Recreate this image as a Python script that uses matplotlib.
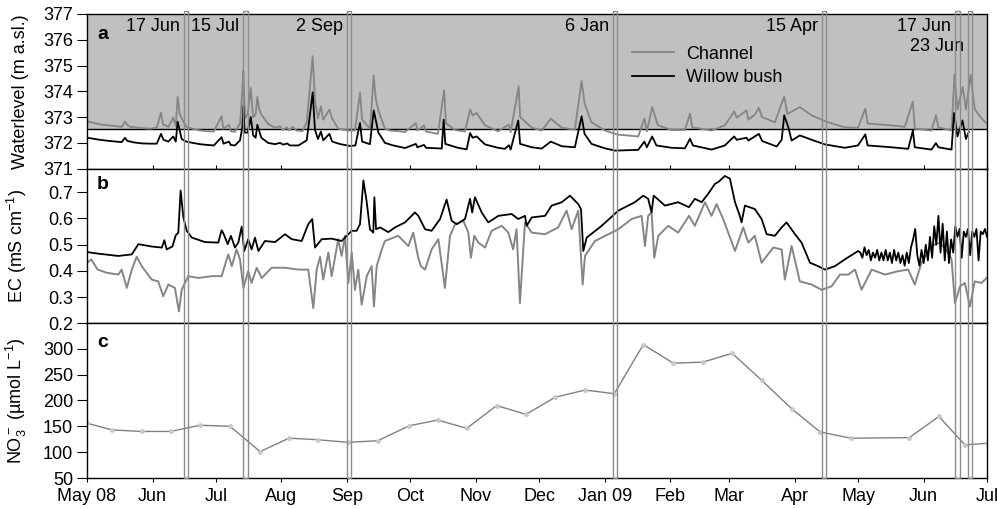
"""Water level, EC and nitrate record, May 2008 - Jul 2009 -> out.png"""

import matplotlib

matplotlib.use("Agg")  # headless
import matplotlib.dates as mdates
import matplotlib.pyplot as plt
import numpy as np
import pandas as pd
from matplotlib.patches import Rectangle
from matplotlib.transforms import blended_transform_factory

START = pd.Timestamp("2008-05-01")  # all series given as days since START

# --- panel a: water level (m a.s.l.) ------------------------------------
level_channel = [
    (0, 372.84), (3, 372.78), (6, 372.72), (10, 372.68), (14, 372.64), (16.4, 372.62),
    (18, 372.83), (19, 372.7), (20.5, 372.62), (25, 372.58), (30, 372.55), (33, 372.6),
    (35, 373.17), (36, 372.72), (38.5, 372.62), (40.8, 372.98), (42, 372.66), (42.9, 373.78),
    (43.8, 373.15), (44.8, 372.95), (47, 372.62), (50, 372.55), (53.5, 372.48), (57, 372.46),
    (60, 372.44), (63.7, 373.04), (64.5, 372.55), (67.2, 372.7), (68, 372.45), (70, 372.43),
    (72.4, 372.75), (73.5, 374.0), (74, 374.79), (74.8, 372.95), (76, 373.1), (77.5, 374.13),
    (78.6, 373.0), (79.8, 373.1), (80.6, 373.78), (81.5, 373.3), (82.5, 373.1), (85.7, 372.74),
    (89, 372.58), (91.3, 372.65), (92.5, 372.5), (94.7, 372.6), (95.5, 372.48), (97.5, 372.62),
    (99, 372.48), (102, 372.46), (104, 372.8), (106.8, 375.36), (107.9, 373.65),
    (109.3, 372.95), (110.7, 373.42), (111.8, 372.9), (114.7, 373.29), (116, 372.95),
    (118.9, 372.55), (123.5, 372.48), (126.8, 372.48), (129.2, 373.95), (130.2, 372.9),
    (133.9, 372.55), (135.7, 374.61), (136.7, 373.7), (137.9, 373.26), (141, 372.55),
    (143.4, 372.48), (148, 372.45), (150.5, 372.42), (155.6, 372.77), (156.4, 372.48),
    (159.5, 372.68), (160.5, 372.44), (166.1, 372.35), (169, 374.04), (169.9, 372.76),
    (174.2, 372.5), (178.9, 372.44), (181.3, 373.29), (182.5, 373.07), (184.4, 373.16),
    (188.4, 372.68), (194.5, 372.45), (199.7, 372.71), (200.5, 372.42), (204.3, 374.19),
    (205, 373.0), (210.5, 372.59), (215.2, 372.48), (219.5, 372.94), (224.7, 372.59),
    (230.9, 372.51), (234.1, 374.4), (235.5, 373.52), (238.8, 372.8), (245.1, 372.48),
    (251.3, 372.32), (260.9, 372.25), (263.8, 372.94), (265, 372.45), (267.5, 373.39),
    (270.2, 372.68), (276.7, 372.5), (283, 372.5), (285.4, 373.13), (286.5, 372.6),
    (295.6, 372.48), (301.9, 372.68), (306.3, 373.22), (307.5, 372.98), (312.2, 373.26),
    (313, 372.9), (316.1, 373.1), (318, 373.36), (319.5, 373.0), (325.6, 372.8), (330, 373.8),
    (331.5, 373.12), (337.4, 373.39), (343, 373.07), (349.3, 372.84), (358.7, 372.6),
    (364.9, 372.58), (368.4, 373.33), (369.5, 372.75), (380.8, 372.68), (387.1, 372.62),
    (390.9, 373.61), (391.8, 372.55), (399.7, 372.48), (401.8, 373.07), (403, 372.6),
    (409.2, 372.48), (410.6, 374.65), (412, 373.3), (414.5, 374.17), (416, 373.3),
    (418.2, 374.65), (420.2, 373.3), (423.4, 372.95), (425.8, 372.75),
]
level_willow = [
    (0, 372.2), (3, 372.16), (6, 372.12), (10, 372.08), (14, 372.05), (16.4, 372.03),
    (18, 372.2), (19, 372.08), (22, 372.02), (26, 371.98), (30, 371.97), (33, 371.97),
    (35, 372.35), (36.2, 372.12), (38.5, 372.05), (40.8, 372.25), (42, 372.05), (42.9, 372.82),
    (44.8, 372.15), (47, 372.05), (50, 372.0), (53.5, 371.95), (57, 371.92), (60, 371.9),
    (63.7, 372.22), (64.6, 371.97), (67.2, 372.05), (68, 371.92), (70, 371.9), (72.4, 372.1),
    (73.5, 372.6), (74, 373.44), (74.6, 372.4), (76, 372.4), (77.5, 373.0), (78.6, 372.3),
    (79.8, 372.2), (80.6, 372.7), (82.5, 372.2), (85.7, 372.0), (89, 371.95), (91.3, 372.0),
    (93, 371.93), (94.7, 371.98), (96, 371.9), (100, 371.9), (104, 372.1), (106.8, 373.96),
    (107.9, 372.5), (109.3, 372.15), (110.7, 372.44), (111.8, 372.1), (114.7, 372.35),
    (116, 372.05), (120, 371.95), (124.5, 371.88), (127, 371.9), (129.2, 372.77),
    (130.2, 372.05), (133.9, 371.95), (135.7, 373.26), (137.9, 372.4), (141, 372.0),
    (145, 371.9), (150.5, 371.8), (155.6, 371.96), (156.4, 371.83), (159.5, 371.92),
    (160.5, 371.81), (167.9, 371.78), (168.8, 372.9), (169.6, 371.96), (175.6, 371.81),
    (179.7, 371.75), (181.3, 372.38), (182.5, 372.2), (184.4, 372.25), (188.4, 371.94),
    (194.5, 371.81), (197.8, 371.77), (199.7, 371.91), (200.5, 371.74), (204.1, 372.87),
    (205, 371.96), (210.5, 371.83), (215.2, 371.78), (219.5, 372.05), (224.7, 371.87),
    (230.9, 371.83), (234.1, 373.03), (235.5, 372.35), (238.8, 371.96), (245.1, 371.79),
    (249.9, 371.7), (260.9, 371.73), (263.8, 372.05), (265, 371.83), (267.5, 372.25),
    (269.5, 371.9), (276.7, 371.81), (283, 371.79), (285.4, 372.16), (286.8, 371.9),
    (295.6, 371.74), (301.9, 371.9), (306.3, 372.25), (307.5, 372.12), (312.2, 372.2),
    (313, 372.09), (318, 372.35), (319.6, 372.07), (326.4, 371.86), (328.8, 372.12),
    (330, 373.07), (331.9, 372.62), (333.5, 372.09), (337.4, 372.29), (343, 372.12),
    (349.3, 371.94), (358.7, 371.81), (364.9, 371.9), (368.4, 372.33), (369.5, 371.9),
    (380.8, 371.83), (388.7, 371.77), (390.9, 372.48), (391.8, 371.83), (399.7, 371.74),
    (401.8, 371.99), (403, 371.83), (409.2, 371.74), (410.4, 373.16), (412, 372.25),
    (414.4, 372.87), (416, 372.15), (417.4, 372.43),
]
ground_level = 372.55  # top of the shaded band

# --- panel b: electrical conductivity (mS/cm) ---------------------------
ec_channel = [
    (0, 0.431), (2, 0.444), (5, 0.405), (9.3, 0.393), (14.8, 0.386), (16.4, 0.405),
    (18.8, 0.335), (21.2, 0.405), (23.5, 0.454), (25.9, 0.418), (30.6, 0.367), (33.7, 0.36),
    (36.1, 0.303), (38.5, 0.348), (41.6, 0.335), (43.5, 0.245), (44.8, 0.328), (47.9, 0.38),
    (52.7, 0.373), (59, 0.38), (63.7, 0.38), (66.1, 0.444), (66.9, 0.463), (68.5, 0.418),
    (70.8, 0.482), (72.4, 0.444), (74, 0.335), (76.3, 0.399), (77.9, 0.354), (80.3, 0.412),
    (82.7, 0.373), (87.4, 0.412), (93.7, 0.412), (100, 0.405), (104.7, 0.405), (107.1, 0.258),
    (108.7, 0.405), (110.3, 0.454), (111.8, 0.367), (114.2, 0.47), (115.8, 0.38),
    (118.9, 0.521), (120.5, 0.457), (122.1, 0.534), (123.7, 0.354), (125.3, 0.47),
    (126.8, 0.328), (128.4, 0.405), (130, 0.271), (132.4, 0.38), (134.7, 0.418),
    (135.8, 0.264), (137.1, 0.418), (139.5, 0.482), (141, 0.514), (147.3, 0.534),
    (152.1, 0.495), (154.4, 0.546), (156.8, 0.45), (158, 0.418), (160, 0.405), (163.1, 0.482),
    (166.3, 0.521), (169.4, 0.335), (171.8, 0.534), (174.2, 0.578), (178.1, 0.591),
    (180.5, 0.546), (181.7, 0.45), (183.3, 0.534), (185.2, 0.508), (188.4, 0.489),
    (191.5, 0.553), (196.3, 0.572), (199.4, 0.546), (201.7, 0.482), (203.3, 0.559),
    (204.9, 0.277), (207.3, 0.585), (210.5, 0.546), (216.8, 0.54), (223, 0.566), (227, 0.63),
    (229.4, 0.559), (232.5, 0.63), (234.6, 0.348), (235.7, 0.457), (240.4, 0.514),
    (251.5, 0.559), (257.8, 0.598), (262.5, 0.61), (264.1, 0.495), (265.6, 0.61),
    (267.2, 0.623), (268.5, 0.45), (270.4, 0.534), (275.1, 0.572), (279.8, 0.546),
    (284.9, 0.61), (287.7, 0.572), (292.5, 0.662), (295.6, 0.61), (298, 0.655),
    (301.1, 0.598), (306.7, 0.476), (310.6, 0.566), (313, 0.508), (316.1, 0.534),
    (319.3, 0.431), (324.8, 0.489), (328.8, 0.482), (330.3, 0.367), (333.5, 0.495),
    (337.4, 0.36), (343, 0.348), (347.7, 0.328), (352.4, 0.341), (356.4, 0.386),
    (360.3, 0.386), (363.5, 0.405), (366.6, 0.328), (371.4, 0.405), (377.7, 0.386),
    (384, 0.399), (388.7, 0.405), (391.8, 0.348), (395, 0.431), (399.7, 0.495),
    (403.7, 0.508), (407.6, 0.47), (409.2, 0.444), (410.8, 0.277), (413.2, 0.341),
    (415.5, 0.354), (417.9, 0.264), (420.2, 0.36), (423.4, 0.354), (425.8, 0.373),
]
ec_willow = [
    (0, 0.472), (5.1, 0.466), (14.8, 0.457), (21.2, 0.463), (24.3, 0.502), (30.6, 0.493),
    (35.4, 0.489), (36.6, 0.517), (37.7, 0.482), (40.4, 0.493), (42, 0.536), (43.2, 0.546),
    (44.3, 0.707), (45.6, 0.604), (47.2, 0.553), (49.6, 0.527), (55.8, 0.51), (62.1, 0.508),
    (63.7, 0.555), (64.5, 0.544), (66.6, 0.502), (68.1, 0.534), (70, 0.489), (71.6, 0.508),
    (73.2, 0.569), (74.4, 0.476), (76.3, 0.521), (77.9, 0.482), (79.5, 0.527), (81.1, 0.476),
    (84.2, 0.514), (89, 0.51), (93.7, 0.54), (96.9, 0.521), (101.6, 0.514), (104.7, 0.578),
    (106.6, 0.598), (107.9, 0.489), (111.1, 0.521), (115.8, 0.523), (120.5, 0.514),
    (125.3, 0.553), (127.6, 0.553), (129.2, 0.578), (130.8, 0.745), (132.4, 0.662),
    (133.9, 0.559), (135.5, 0.546), (136, 0.681), (136.8, 0.559), (138.7, 0.566),
    (142.6, 0.548), (145.8, 0.566), (150.5, 0.585), (155.2, 0.623), (156.8, 0.61),
    (160, 0.559), (163.1, 0.553), (167.1, 0.598), (170.2, 0.672), (172.6, 0.591),
    (175, 0.578), (178.9, 0.598), (181.3, 0.675), (182.3, 0.623), (183.6, 0.681),
    (186.8, 0.623), (189.9, 0.585), (194.7, 0.61), (201, 0.617), (204.1, 0.598),
    (207.3, 0.61), (208.1, 0.572), (210.5, 0.604), (216.8, 0.61), (219.9, 0.649),
    (224.7, 0.662), (228.6, 0.687), (232.5, 0.655), (233.8, 0.636), (234.9, 0.476),
    (236.5, 0.527), (243.6, 0.572), (251.5, 0.63), (259.3, 0.662), (263.3, 0.687),
    (265.6, 0.675), (267.2, 0.623), (268.2, 0.687), (270.4, 0.672), (273.5, 0.649),
    (279.8, 0.662), (284.9, 0.643), (287.7, 0.675), (290.9, 0.662), (294, 0.694),
    (297.2, 0.732), (298.8, 0.739), (301.9, 0.762), (304.3, 0.752), (306.7, 0.662),
    (309, 0.61), (309.8, 0.585), (311.4, 0.649), (316.1, 0.636), (319.3, 0.598),
    (321.7, 0.54), (325.6, 0.534), (328.8, 0.566), (331.1, 0.585), (335.1, 0.54),
    (338.2, 0.508), (342.2, 0.431), (346.1, 0.418), (349.3, 0.405), (354, 0.418),
    (358.7, 0.444), (365, 0.476),
    (366, 0.47), (367, 0.45), (368, 0.49), (369, 0.46), (370, 0.48), (371, 0.44),
    (372, 0.47), (373, 0.45), (374, 0.48), (375, 0.44), (376, 0.47), (377, 0.44),
    (378, 0.48), (379, 0.44), (380, 0.47), (381, 0.43), (382, 0.48), (383, 0.44),
    (384, 0.47), (385, 0.43), (386, 0.46), (387, 0.42), (388, 0.47), (389, 0.43),
    (390, 0.49), (391, 0.52), (392, 0.56), (393, 0.46), (394, 0.42), (395, 0.48),
    (396, 0.43), (397, 0.50), (398, 0.44), (399, 0.53), (400, 0.45), (401, 0.57),
    (402, 0.50), (403, 0.61), (404, 0.47), (405, 0.58), (406, 0.44), (407, 0.55),
    (408, 0.43), (409, 0.52), (410, 0.47), (411, 0.57), (412, 0.53), (413, 0.56),
    (414, 0.45), (415, 0.55), (416, 0.53), (417, 0.56), (418, 0.46), (419, 0.55),
    (420, 0.53), (421, 0.56), (422, 0.44), (423, 0.55), (424, 0.54), (425, 0.56),
    (426, 0.53),
]

# --- panel c: nitrate (umol/L), roughly fortnightly samples -------------
no3_day = [0, 11.7, 25.8, 39.6, 53.4, 67.7, 81.9, 95.6, 109.2, 123.4, 137.6, 152.5, 166,
           179.7, 193.9, 207.8, 221.5, 235.7, 249.6, 263.3, 277.5, 291.4, 305.4, 319.3,
           333.5, 347, 361.6, 389.2, 403.2, 415.5, 425.8]
no3_umol = [156, 143, 140, 140, 152, 150, 101, 127, 124, 119, 122, 151, 162, 146, 190, 173,
            206, 220, 213, 308, 272, 274, 291, 239, 184, 139, 127, 128, 169, 114, 117]

# --- sampling events ----------------------------------------------------
event_dates = ["2008-06-17", "2008-07-15", "2008-09-02", "2009-01-06",
               "2009-04-15", "2009-06-17", "2009-06-23"]
event_labels = ["17 Jun", "15 Jul", "2 Sep", "6 Jan", "15 Apr", "17 Jun", "23 Jun"]

month_labels = ["May 08", "Jun", "Jul", "Aug", "Sep", "Oct", "Nov", "Dec",
                "Jan 09", "Feb", "Mar", "Apr", "May", "Jun", "Jul"]

GREY = "#858585"


def to_dates(days):
    return START + pd.to_timedelta(np.asarray(days, dtype=float), unit="D")


def split(series):
    d, v = zip(*series)
    return to_dates(d), np.array(v)


plt.rcParams["font.family"] = ["Liberation Sans", "DejaVu Sans"]
plt.rcParams["mathtext.fontset"] = "custom"
plt.rcParams["mathtext.rm"] = "Liberation Sans"
plt.rcParams["mathtext.it"] = "Liberation Sans:italic"
plt.rcParams["mathtext.default"] = "regular"

fig, (ax_a, ax_b, ax_c) = plt.subplots(3, 1, figsize=(9.97, 5.09), dpi=100, sharex=True)
fig.subplots_adjust(left=0.0873, right=0.990, top=0.9725, bottom=0.0609, hspace=0)

# --- a ------------------------------------------------------------------
ax_a.axhspan(ground_level, 377, color="#c0c0c0", lw=0, zorder=0)
ax_a.axhline(ground_level, color="black", lw=1, zorder=1)
t, v = split(level_channel)
ax_a.plot(t, v, color=GREY, lw=1.3, label="Channel", zorder=2)
t, v = split(level_willow)
ax_a.plot(t, v, color="black", lw=1.3, label="Willow bush", zorder=3)
ax_a.set_ylim(371, 377)
ax_a.set_yticks(range(371, 378))
ax_a.set_ylabel("Waterlevel (m a.sl.)", fontsize=13)
ax_a.legend(loc="center left", bbox_to_anchor=(0.6056, 0.665), frameon=False, fontsize=13,
            handlelength=2.3, handletextpad=0.7, labelspacing=0.35, borderpad=0,
            borderaxespad=0)

# --- b ------------------------------------------------------------------
t, v = split(ec_channel)
ax_b.plot(t, v, color=GREY, lw=1.4)
t, v = split(ec_willow)
ax_b.plot(t, v, color="black", lw=1.3)
ax_b.set_ylim(0.2, 0.79)
ax_b.set_yticks(np.arange(0.2, 0.71, 0.1))
ax_b.yaxis.set_major_formatter(matplotlib.ticker.FormatStrFormatter("%.1f"))
ax_b.set_ylabel("EC (mS cm$^{-1}$)", fontsize=13)

# --- c ------------------------------------------------------------------
ax_c.plot(to_dates(no3_day), no3_umol, color="#808080", lw=1, marker="o", ms=2.5,
          mfc="#c8c8c8", mec="#c8c8c8")
ax_c.set_ylim(50, 349)
ax_c.set_yticks(range(50, 301, 50))
ax_c.set_ylabel("NO$_3^-$ (µmol L$^{-1}$)", fontsize=13)

# --- shared x axis --------------------------------------------------------
months = pd.date_range("2008-05-01", "2009-07-01", freq="MS")
ax_c.set_xlim(months[0], months[-1])
ax_c.set_xticks(months)
ax_c.set_xticklabels(month_labels)

for ax, letter, ly in ((ax_a, "a", 0.865), (ax_b, "b", 0.895), (ax_c, "c", 0.875)):
    ax.tick_params(axis="y", direction="out", length=7, pad=3, labelsize=13)
    ax.text(0.011, ly, letter, transform=ax.transAxes, fontsize=14, fontweight="bold",
            va="center", ha="left")
    ax.yaxis.set_label_coords(-0.064, 0.5)
    for s in ax.spines.values():
        s.set_linewidth(1)
ax_a.tick_params(axis="x", direction="in", length=3, labelbottom=False)
ax_b.tick_params(axis="x", length=0, labelbottom=False)
ax_c.tick_params(axis="x", direction="out", length=3, pad=4, labelsize=13)

# --- event bars across all panels + labels in panel a --------------------
y_bot = ax_c.get_position().y0
y_top = ax_a.get_position().y1 + 3 / 509
trans = blended_transform_factory(ax_c.transData, fig.transFigure)
for d, lab in zip(event_dates, event_labels):
    x0 = mdates.date2num(pd.Timestamp(d)) - 1
    fig.add_artist(Rectangle((x0, y_bot), 2, y_top - y_bot, transform=trans, fill=False,
                             edgecolor="#8c8c8c", lw=1, clip_on=False, zorder=5))
    ly = 0.787 if lab == "23 Jun" else 0.916
    ax_a.annotate(lab, xy=(x0, ly), xycoords=("data", "axes fraction"), xytext=(-3, 0),
                  textcoords="offset points", ha="right", va="center", fontsize=13)

fig.savefig("out.png", dpi=100)
